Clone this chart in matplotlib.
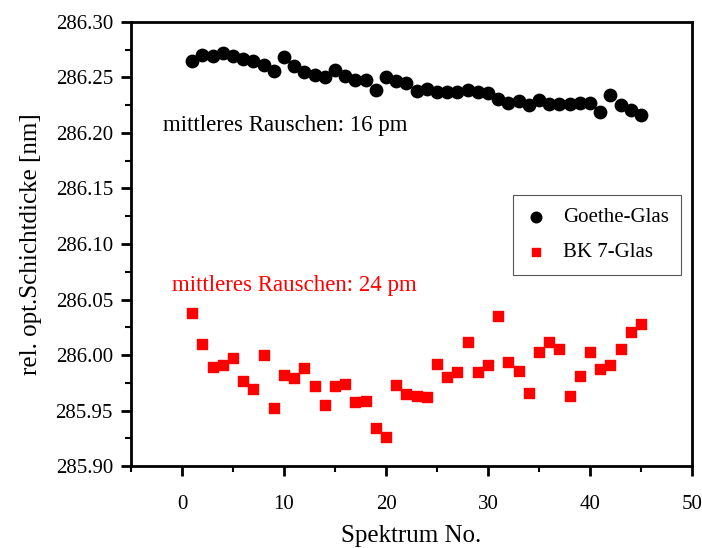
import matplotlib.pyplot as plt
from matplotlib.ticker import MultipleLocator

plt.rcParams['font.family'] = ['Liberation Serif', 'DejaVu Serif']

# data
spektrum = list(range(1, 46))
goethe = [286.265, 286.270, 286.269, 286.272, 286.269, 286.267, 286.265, 286.261, 286.256, 286.268,
          286.260, 286.255, 286.252, 286.250, 286.257, 286.251, 286.248, 286.248, 286.239, 286.250,
          286.247, 286.245, 286.238, 286.240, 286.237, 286.237, 286.237, 286.239, 286.237, 286.236,
          286.231, 286.227, 286.229, 286.225, 286.230, 286.226, 286.226, 286.226, 286.227, 286.227,
          286.219, 286.234, 286.225, 286.221, 286.216]
bk7 = [286.038, 286.010, 285.989, 285.991, 285.997, 285.977, 285.969, 286.000, 285.952, 285.982,
       285.979, 285.988, 285.972, 285.955, 285.972, 285.974, 285.958, 285.959, 285.934, 285.926,
       285.973, 285.965, 285.963, 285.962, 285.992, 285.980, 285.985, 286.012, 285.985, 285.991,
       286.035, 285.994, 285.986, 285.966, 286.003, 286.012, 286.005, 285.963, 285.981, 286.003,
       285.987, 285.991, 286.005, 286.021, 286.028]

fig = plt.figure(figsize=(7.02, 5.48), dpi=100)
ax = fig.add_axes([0.1866, 0.1496, 0.7992, 0.8103])

ax.scatter(spektrum, goethe, s=80, marker='o', color='black', label='Goethe-Glas', zorder=3)
ax.scatter(spektrum, bk7, s=52, marker='s', color='#ff0000', label='BK 7-Glas', zorder=3)

ax.set_xlim(-5, 50)
ax.set_ylim(285.90, 286.30)
ax.xaxis.set_major_locator(MultipleLocator(10))
ax.xaxis.set_minor_locator(MultipleLocator(5))
ax.yaxis.set_major_locator(MultipleLocator(0.05))
ax.yaxis.set_minor_locator(MultipleLocator(0.025))
ax.yaxis.set_major_formatter(plt.FormatStrFormatter('%.2f'))

for s in ax.spines.values():
    s.set_linewidth(2)
ax.tick_params(which='major', direction='out', length=7, width=2, labelsize=15)
ax.tick_params(which='minor', direction='out', length=4, width=1.5)
ax.tick_params(axis='x', pad=14)
ax.tick_params(axis='y', pad=6)

ax.set_xlabel('Spektrum No.', fontsize=18, labelpad=8)
ax.set_ylabel('rel. opt.Schichtdicke [nm]', fontsize=18, labelpad=10)

ax.text(-1.9, 286.207, 'mittleres Rauschen: 16 pm', fontsize=16.5, va='center', color='black')
ax.text(-1.0, 286.063, 'mittleres Rauschen: 24 pm', fontsize=16.5, va='center', color='#ff0000')

leg = ax.legend(loc='upper left', bbox_to_anchor=(0.681, 0.610), fontsize=15, frameon=True,
                fancybox=False, edgecolor='#555555', framealpha=1, handlelength=1.0,
                handletextpad=0.8, borderpad=0.6, labelspacing=0.75, borderaxespad=0,
                markerscale=0.85)
leg.get_frame().set_linewidth(0.8)

fig.savefig('out.png', dpi=100)
